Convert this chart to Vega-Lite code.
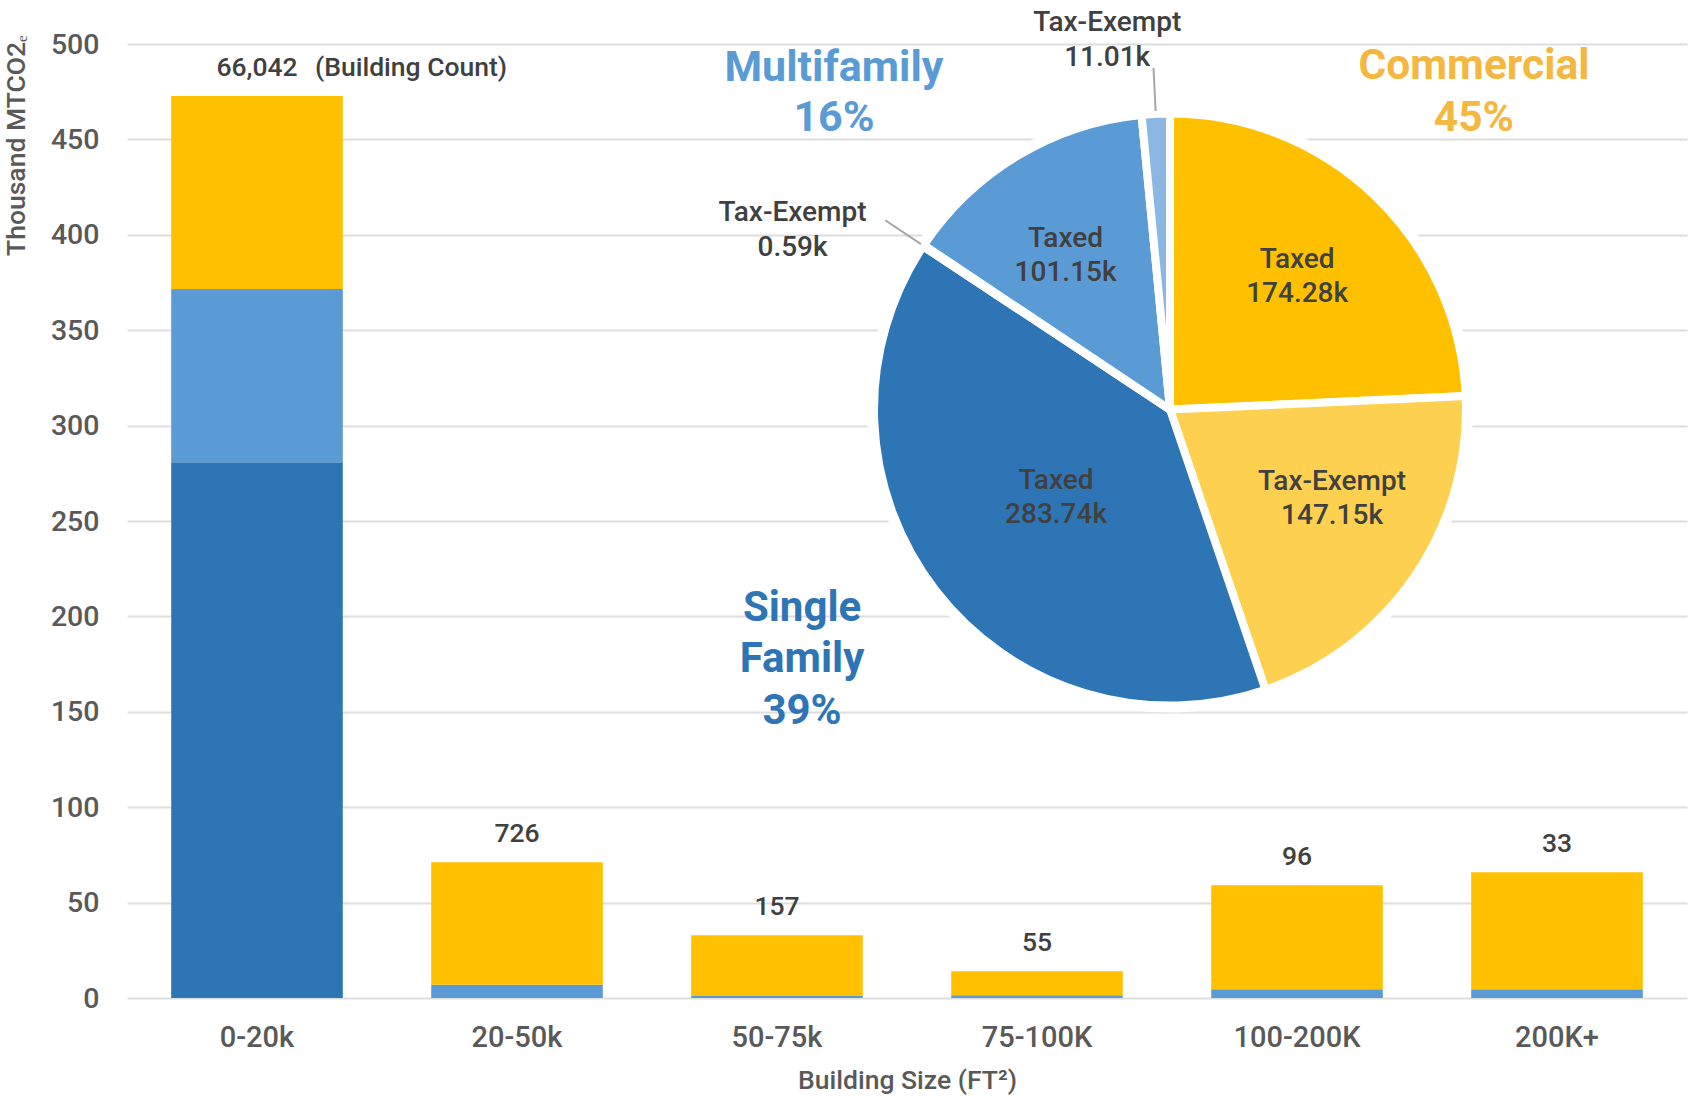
{
  "$schema": "https://vega.github.io/schema/vega-lite/v6.json",
  "width": 1560,
  "height": 954,
  "autosize": {"type": "none"},
  "padding": {"left": 127, "top": 44, "right": 3, "bottom": 98},
  "background": "white",
  "config": {
    "view": {"stroke": null},
    "font": "Roboto",
    "text": {"font": "Roboto"}
  },
  "datasets": {
    "bars": [
      {"size": "0-20k", "type": "Single Family", "value": 280.8},
      {"size": "0-20k", "type": "Multifamily", "value": 90.8},
      {"size": "0-20k", "type": "Commercial", "value": 101.1},
      {"size": "20-50k", "type": "Multifamily", "value": 7.0},
      {"size": "20-50k", "type": "Commercial", "value": 64.1},
      {"size": "50-75k", "type": "Multifamily", "value": 1.0},
      {"size": "50-75k", "type": "Commercial", "value": 31.9},
      {"size": "75-100K", "type": "Multifamily", "value": 1.5},
      {"size": "75-100K", "type": "Commercial", "value": 12.5},
      {"size": "100-200K", "type": "Multifamily", "value": 4.6},
      {"size": "100-200K", "type": "Commercial", "value": 54.5},
      {"size": "200K+", "type": "Multifamily", "value": 4.6},
      {"size": "200K+", "type": "Commercial", "value": 61.3}
    ],
    "counts": [
      {"size": "0-20k", "count": 66042},
      {"size": "20-50k", "count": 726},
      {"size": "50-75k", "count": 157},
      {"size": "75-100K", "count": 55},
      {"size": "100-200K", "count": 96},
      {"size": "200K+", "count": 33}
    ],
    "pie": [
      {"group": "Commercial", "status": "Taxed", "segment": "Commercial Taxed", "value": 174.28, "label": ["Taxed", "174.28k"]},
      {"group": "Commercial", "status": "Tax-Exempt", "segment": "Commercial Tax-Exempt", "value": 147.15, "label": ["Tax-Exempt", "147.15k"]},
      {"group": "Single Family", "status": "Taxed", "segment": "Single Family Taxed", "value": 283.74, "label": ["Taxed", "283.74k"]},
      {"group": "Single Family", "status": "Tax-Exempt", "segment": "Single Family Tax-Exempt", "value": 0.59, "label": ["Tax-Exempt", "0.59k"]},
      {"group": "Multifamily", "status": "Taxed", "segment": "Multifamily Taxed", "value": 101.15, "label": ["Taxed", "101.15k"]},
      {"group": "Multifamily", "status": "Tax-Exempt", "segment": "Multifamily Tax-Exempt", "value": 11.01, "label": ["Tax-Exempt", "11.01k"]}
    ]
  },
  "layer": [
    {
      "data": {"name": "bars"},
      "mark": {"type": "bar"},
      "encoding": {
        "x": {
          "field": "size",
          "type": "nominal",
          "title": "Building Size (FT²)",
          "scale": {"domain": ["0-20k", "20-50k", "50-75k", "75-100K", "100-200K", "200K+"], "paddingInner": 0.34, "paddingOuter": 0.17},
          "axis": {
            "domain": false,
            "ticks": false,
            "tickSize": 0,
            "labelAngle": 0,
            "labelPadding": 25,
            "labelFontSize": 29,
            "labelColor": "#595959",
            "labelFontWeight": 500,
            "titleFontSize": 26.5,
            "titleColor": "#595959",
            "titleFontWeight": 500,
            "titleY": 82,
            "titleBaseline": "middle"
          }
        },
        "y": {
          "field": "value",
          "type": "quantitative",
          "stack": "zero",
          "title": "Thousand MTCO2ₑ",
          "scale": {"domain": [0, 500], "nice": false},
          "axis": {
            "values": [0, 50, 100, 150, 200, 250, 300, 350, 400, 450, 500],
            "grid": true,
            "gridColor": "#DDDDDD",
            "gridWidth": 2,
            "domain": false,
            "ticks": false,
            "tickSize": 0,
            "labelPadding": 28,
            "labelFontSize": 28.5,
            "labelColor": "#595959",
            "labelFontWeight": 500,
            "titleFontSize": 26.5,
            "titleColor": "#595959",
            "titleFontWeight": 500,
            "titleX": -111,
            "titleY": 101,
            "titleAngle": -90,
            "titleAlign": "center",
            "titleBaseline": "middle"
          }
        },
        "color": {
          "field": "type",
          "type": "nominal",
          "scale": {"domain": ["Single Family", "Multifamily", "Commercial"], "range": ["#2E75B6", "#5B9BD5", "#FFC000"]},
          "legend": null
        },
        "order": {"field": "type", "sort": "descending"}
      }
    },
    {
      "data": {"name": "bars"},
      "transform": [
        {"aggregate": [{"op": "sum", "field": "value", "as": "total"}], "groupby": ["size"]},
        {"lookup": "size", "from": {"data": {"name": "counts"}, "key": "size", "fields": ["count"]}}
      ],
      "mark": {"type": "text", "dy": -28, "fontSize": 26.5, "fontWeight": 500, "color": "#404040", "baseline": "middle", "align": "center"},
      "encoding": {
        "x": {"field": "size", "type": "nominal", "scale": {"domain": ["0-20k", "20-50k", "50-75k", "75-100K", "100-200K", "200K+"]}},
        "y": {"field": "total", "type": "quantitative", "scale": {"domain": [0, 500], "nice": false}},
        "text": {"field": "count", "type": "quantitative", "format": ","}
      }
    },
    {
      "data": {"name": "bars"},
      "transform": [
        {"aggregate": [{"op": "sum", "field": "value", "as": "total"}], "groupby": ["size"]},
        {"filter": "datum.size === '0-20k'"}
      ],
      "mark": {"type": "text", "dy": -28, "dx": 58, "fontSize": 26.5, "fontWeight": 500, "color": "#404040", "baseline": "middle", "align": "left"},
      "encoding": {
        "x": {"field": "size", "type": "nominal", "scale": {"domain": ["0-20k", "20-50k", "50-75k", "75-100K", "100-200K", "200K+"]}},
        "y": {"field": "total", "type": "quantitative", "scale": {"domain": [0, 500], "nice": false}},
        "text": {"value": "(Building Count)"}
      }
    },
    {
      "data": {"name": "pie"},
      "transform": [{"window": [{"op": "row_number", "as": "rank"}]}],
      "encoding": {
        "x": {"datum": "100-200K", "type": "nominal", "bandPosition": -0.24, "scale": {"domain": ["0-20k", "20-50k", "50-75k", "75-100K", "100-200K", "200K+"]}},
        "y": {"datum": 308.4, "type": "quantitative", "scale": {"domain": [0, 500], "nice": false}},
        "theta": {"field": "value", "type": "quantitative", "stack": true},
        "order": {"field": "rank", "type": "quantitative"}
      },
      "layer": [
        {"mark": {"type": "arc", "radius": 302, "fill": "white", "stroke": "white", "strokeWidth": 2}},
        {
          "mark": {"type": "arc", "radius": 296, "stroke": "white", "strokeWidth": 8, "strokeJoin": "round"},
          "encoding": {
            "color": {
              "field": "segment",
              "type": "nominal",
              "scale": {
                "domain": ["Commercial Taxed", "Commercial Tax-Exempt", "Single Family Taxed", "Single Family Tax-Exempt", "Multifamily Taxed", "Multifamily Tax-Exempt"],
                "range": ["#FFC000", "#FDD14F", "#2E75B6", "#6A9BD0", "#5B9BD5", "#8DB7E3"]
              },
              "legend": null
            }
          }
        },
        {
          "mark": {"type": "arc", "radius": 342, "radius2": 299, "padAngle": 1, "fill": "white", "fillOpacity": 0, "stroke": "#A6A6A6", "strokeWidth": 2},
          "encoding": {
            "strokeOpacity": {"condition": {"test": "datum.status === 'Tax-Exempt' && datum.group !== 'Commercial'", "value": 1}, "value": 0}
          }
        },
        {
          "mark": {"type": "text", "radius": 184, "dy": -17, "fontSize": 28, "fontWeight": 500, "color": "#404040", "lineHeight": 34, "align": "center", "baseline": "middle"},
          "encoding": {
            "text": {"field": "label"},
            "opacity": {"condition": {"test": "datum.segment === 'Commercial Taxed'", "value": 1}, "value": 0}
          }
        },
        {
          "mark": {"type": "text", "radius": 184, "dx": 10, "dy": -31, "fontSize": 28, "fontWeight": 500, "color": "#404040", "lineHeight": 34, "align": "center", "baseline": "middle"},
          "encoding": {
            "text": {"field": "label"},
            "opacity": {"condition": {"test": "datum.segment === 'Commercial Tax-Exempt'", "value": 1}, "value": 0}
          }
        },
        {
          "mark": {"type": "text", "radius": 184, "dx": -10, "dy": -13, "fontSize": 28, "fontWeight": 500, "color": "#404040", "lineHeight": 34, "align": "center", "baseline": "middle"},
          "encoding": {
            "text": {"field": "label"},
            "opacity": {"condition": {"test": "datum.segment === 'Multifamily Taxed'", "value": 1}, "value": 0}
          }
        },
        {
          "mark": {"type": "text", "radius": 144, "dy": -17, "fontSize": 28, "fontWeight": 500, "color": "#404040", "lineHeight": 34, "align": "center", "baseline": "middle"},
          "encoding": {
            "text": {"field": "label"},
            "opacity": {"condition": {"test": "datum.segment === 'Single Family Taxed'", "value": 1}, "value": 0}
          }
        },
        {
          "mark": {"type": "text", "radius": 370, "dx": -45, "dy": -17, "fontSize": 28, "fontWeight": 500, "color": "#404040", "lineHeight": 35, "align": "center", "baseline": "middle"},
          "encoding": {
            "text": {"field": "label"},
            "opacity": {"condition": {"test": "datum.segment === 'Multifamily Tax-Exempt'", "value": 1}, "value": 0}
          }
        },
        {
          "mark": {"type": "text", "radius": 350, "dx": -86, "dy": -3, "fontSize": 28, "fontWeight": 500, "color": "#404040", "lineHeight": 35, "align": "center", "baseline": "middle"},
          "encoding": {
            "text": {"field": "label"},
            "opacity": {"condition": {"test": "datum.segment === 'Single Family Tax-Exempt'", "value": 1}, "value": 0}
          }
        }
      ]
    },
    {
      "data": {"values": [{}]},
      "mark": {"type": "text", "dy": -25, "fontSize": 43, "fontWeight": "bold", "color": "#5B9BD5", "lineHeight": 50, "align": "center", "baseline": "middle"},
      "encoding": {
        "x": {"datum": "50-75k", "type": "nominal", "bandPosition": 0.832, "scale": {"domain": ["0-20k", "20-50k", "50-75k", "75-100K", "100-200K", "200K+"]}},
        "y": {"datum": 474.4, "type": "quantitative", "scale": {"domain": [0, 500], "nice": false}},
        "text": {"value": ["Multifamily", "16%"]}
      }
    },
    {
      "data": {"values": [{}]},
      "mark": {"type": "text", "dy": -25, "fontSize": 42.5, "fontWeight": "bold", "color": "#F4B740", "lineHeight": 52, "align": "center", "baseline": "middle"},
      "encoding": {
        "x": {"datum": "200K+", "type": "nominal", "bandPosition": 0.016, "scale": {"domain": ["0-20k", "20-50k", "50-75k", "75-100K", "100-200K", "200K+"]}},
        "y": {"datum": 475.4, "type": "quantitative", "scale": {"domain": [0, 500], "nice": false}},
        "text": {"value": ["Commercial", "45%"]}
      }
    },
    {
      "data": {"values": [{}]},
      "mark": {"type": "text", "dy": -51, "fontSize": 42, "fontWeight": "bold", "color": "#2E75B6", "lineHeight": 51.5, "align": "center", "baseline": "middle"},
      "encoding": {
        "x": {"datum": "50-75k", "type": "nominal", "bandPosition": 0.646, "scale": {"domain": ["0-20k", "20-50k", "50-75k", "75-100K", "100-200K", "200K+"]}},
        "y": {"datum": 177.9, "type": "quantitative", "scale": {"domain": [0, 500], "nice": false}},
        "text": {"value": ["Single", "Family", "39%"]}
      }
    }
  ],
  "resolve": {"scale": {"color": "independent"}}
}
